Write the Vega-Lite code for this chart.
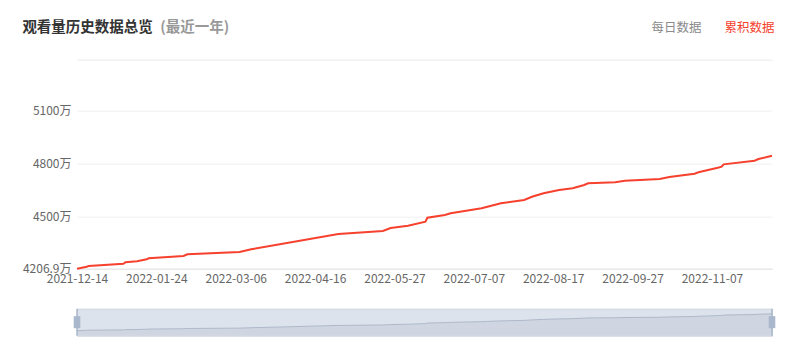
{
  "$schema": "https://vega.github.io/schema/vega-lite/v6.json",
  "background": "white",
  "padding": {"left": 22, "top": 19.7, "right": 24, "bottom": 4},
  "config": {
    "font": "Noto Sans CJK SC",
    "view": {"stroke": null}
  },
  "title": {"text": "(最近一年)", "anchor": "start", "frame": "bounds", "dx": 138, "dy": 15, "offset": 0, "fontSize": 14.5, "fontWeight": "bold", "color": "#999999"},
  "datasets": {
    "views": [
      {"date": "2021-12-14", "value": 4206.9},
      {"date": "2021-12-19", "value": 4218.2},
      {"date": "2021-12-20", "value": 4222.0},
      {"date": "2022-01-07", "value": 4235.0},
      {"date": "2022-01-08", "value": 4243.0},
      {"date": "2022-01-14", "value": 4248.7},
      {"date": "2022-01-19", "value": 4260.0},
      {"date": "2022-01-20", "value": 4265.7},
      {"date": "2022-02-07", "value": 4278.7},
      {"date": "2022-02-09", "value": 4288.3},
      {"date": "2022-03-08", "value": 4301.3},
      {"date": "2022-03-14", "value": 4316.5},
      {"date": "2022-04-28", "value": 4403.0},
      {"date": "2022-05-21", "value": 4419.9},
      {"date": "2022-05-25", "value": 4436.9},
      {"date": "2022-06-03", "value": 4449.9},
      {"date": "2022-06-12", "value": 4472.5},
      {"date": "2022-06-13", "value": 4495.0},
      {"date": "2022-06-22", "value": 4510.3},
      {"date": "2022-06-25", "value": 4519.9},
      {"date": "2022-07-11", "value": 4548.2},
      {"date": "2022-07-14", "value": 4557.2},
      {"date": "2022-07-21", "value": 4576.4},
      {"date": "2022-08-02", "value": 4595.1},
      {"date": "2022-08-06", "value": 4613.7},
      {"date": "2022-08-12", "value": 4632.9},
      {"date": "2022-08-20", "value": 4651.6},
      {"date": "2022-08-27", "value": 4661.2},
      {"date": "2022-09-02", "value": 4679.8},
      {"date": "2022-09-04", "value": 4689.4},
      {"date": "2022-09-18", "value": 4695.1},
      {"date": "2022-09-23", "value": 4704.1},
      {"date": "2022-10-11", "value": 4713.7},
      {"date": "2022-10-16", "value": 4725.0},
      {"date": "2022-10-29", "value": 4743.7},
      {"date": "2022-10-31", "value": 4751.6},
      {"date": "2022-11-10", "value": 4777.5},
      {"date": "2022-11-12", "value": 4783.2},
      {"date": "2022-11-13", "value": 4796.8},
      {"date": "2022-11-29", "value": 4817.1},
      {"date": "2022-12-01", "value": 4826.7},
      {"date": "2022-12-08", "value": 4845.4}
    ]
  },
  "bounds": "flush",
  "spacing": 40,
  "resolve": {"scale": {"x": "independent", "y": "independent", "color": "independent"}},
  "vconcat": [
    {
      "width": 695,
      "height": 158,
      "data": {"name": "views"},
      "title": {"text": "观看量历史数据总览", "anchor": "start", "frame": "bounds", "offset": -14, "fontSize": 14.5, "fontWeight": "bold", "color": "#333333"},
      "resolve": {"axis": {"x": "independent"}},
      "layer": [
        {
          "mark": {"type": "line", "strokeWidth": 2},
          "encoding": {
            "x": {
              "field": "date", "type": "temporal",
              "scale": {"type": "utc", "nice": false},
              "axis": {
                "title": null, "grid": false, "ticks": false, "tickSize": 0,
                "domainColor": "#e3e3e3", "labelColor": "#666666", "labelFontSize": 12,
                "labelPadding": 5, "labelFlush": false, "labelOverlap": false, "labelBound": false,
                "format": "%Y-%m-%d",
                "values": [
                  {"year": 2021, "month": 12, "date": 14, "utc": true},
                  {"year": 2022, "month": 1, "date": 24, "utc": true},
                  {"year": 2022, "month": 3, "date": 6, "utc": true},
                  {"year": 2022, "month": 4, "date": 16, "utc": true},
                  {"year": 2022, "month": 5, "date": 27, "utc": true},
                  {"year": 2022, "month": 7, "date": 7, "utc": true},
                  {"year": 2022, "month": 8, "date": 17, "utc": true},
                  {"year": 2022, "month": 9, "date": 27, "utc": true},
                  {"year": 2022, "month": 11, "date": 7, "utc": true}
                ]
              }
            },
            "y": {
              "field": "value", "type": "quantitative",
              "scale": {"domain": [4206.9, 5100], "nice": false, "zero": false},
              "axis": {
                "title": null, "ticks": false, "tickSize": 0, "domain": false,
                "values": [4206.9, 4500, 4800, 5100],
                "labelExpr": "datum.value + '万'",
                "gridColor": "#f0f0f0", "labelColor": "#666666", "labelFontSize": 12, "labelPadding": 6
              }
            },
            "color": {
              "datum": "累积数据",
              "scale": {"domain": ["每日数据", "累积数据"], "range": ["#999999", "#f5412d"]},
              "legend": {
                "orient": "none", "legendX": 562, "legendY": -89,
                "direction": "horizontal", "columns": 2, "columnPadding": 10,
                "title": null, "symbolType": "circle", "symbolSize": 0, "symbolOpacity": 0, "symbolStrokeWidth": 0,
                "labelOffset": 0, "padding": 0, "labelFontSize": 12.5,
                "labelColor": {"expr": "datum.label == '累积数据' ? '#f5412d' : '#8a8a8a'"}
              }
            }
          }
        },
        {
          "mark": {"type": "line", "strokeWidth": 2, "opacity": 0},
          "encoding": {
            "x": {
              "field": "date", "type": "temporal",
              "axis": {"orient": "top", "offset": 51, "title": null, "labels": false, "ticks": false, "grid": false, "domainColor": "#eaeaea", "values": []}
            },
            "y": {"field": "value", "type": "quantitative"}
          }
        }
      ]
    },
    {
      "width": 695,
      "height": 27,
      "data": {"name": "views"},
      "view": {"fill": "#dde3ed", "stroke": "#cdd4de"},
      "encoding": {
        "x": {"field": "date", "type": "temporal", "scale": {"type": "utc", "nice": false}, "axis": null}
      },
      "layer": [
        {
          "mark": {"type": "area", "color": "#cfd6e1", "opacity": 1, "clip": true, "line": {"color": "#aeb9c9", "strokeWidth": 1}},
          "encoding": {
            "y": {"field": "value", "type": "quantitative", "scale": {"domain": [4015, 5039], "nice": false, "zero": false}, "axis": null}
          }
        },
        {
          "mark": {"type": "rule", "color": "#a9b8cc", "strokeWidth": 1.5},
          "encoding": {"x": {"aggregate": "min", "field": "date", "type": "temporal"}}
        },
        {
          "mark": {"type": "rule", "color": "#a9b8cc", "strokeWidth": 1.5},
          "encoding": {"x": {"aggregate": "max", "field": "date", "type": "temporal"}}
        },
        {
          "mark": {"type": "point", "shape": "M-0.55,-1H0.55V1H-0.55Z", "size": 144, "filled": true, "color": "#a9b8cc", "opacity": 1},
          "encoding": {
            "x": {"aggregate": "min", "field": "date", "type": "temporal"},
            "y": {"datum": 4527, "type": "quantitative", "scale": {"domain": [4015, 5039], "nice": false, "zero": false}, "axis": null}
          }
        },
        {
          "mark": {"type": "point", "shape": "M-0.55,-1H0.55V1H-0.55Z", "size": 144, "filled": true, "color": "#a9b8cc", "opacity": 1},
          "encoding": {
            "x": {"aggregate": "max", "field": "date", "type": "temporal"},
            "y": {"datum": 4527, "type": "quantitative", "scale": {"domain": [4015, 5039], "nice": false, "zero": false}, "axis": null}
          }
        }
      ]
    }
  ]
}
